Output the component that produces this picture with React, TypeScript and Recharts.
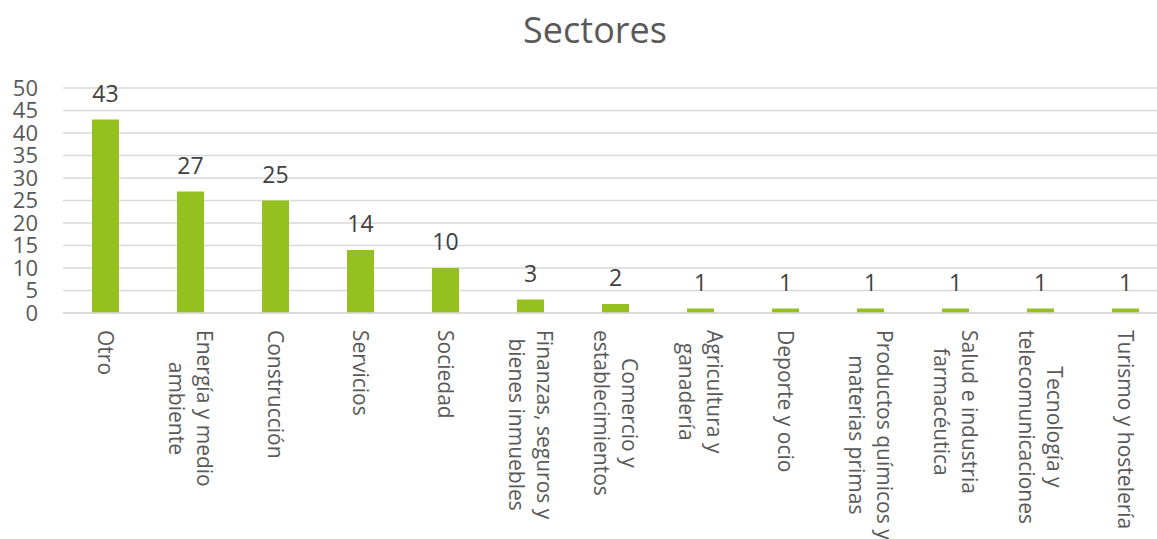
import React from "react";
import {
  BarChart,
  Bar,
  XAxis,
  YAxis,
  CartesianGrid,
  LabelList,
} from "recharts";

// category names, "\n" marks where the label wraps
const categories = [
  "Otro",
  "Energía y medio\nambiente",
  "Construcción",
  "Servicios",
  "Sociedad",
  "Finanzas, seguros y\nbienes inmuebles",
  "Comercio y\nestablecimientos",
  "Agricultura y\nganadería",
  "Deporte y ocio",
  "Productos químicos y\nmaterias primas",
  "Salud e industria\nfarmacéutica",
  "Tecnología y\ntelecomunicaciones",
  "Turismo y hostelería",
];

const counts = [43, 27, 25, 14, 10, 3, 2, 1, 1, 1, 1, 1, 1];

const yTicks = [0, 5, 10, 15, 20, 25, 30, 35, 40, 45, 50];

const data = categories.map((name, i) => ({ name, value: counts[i] }));

const FONT = "'Open Sans', sans-serif";
const GREEN = "#95C11F";
const GRID = "#D9D9D9";

let ctx: CanvasRenderingContext2D | null = null;
function textWidth(s: string) {
  if (!ctx) ctx = document.createElement("canvas").getContext("2d");
  if (!ctx) return s.length * 10;
  ctx.font = "21px 'Open Sans'";
  return ctx.measureText(s).width;
}

function CategoryTick(props: any) {
  const { x, y, payload } = props;
  const lines: string[] = String(payload.value).split("\n");
  const maxW = Math.max(...lines.map(textWidth));
  return (
    <g transform={`translate(${x},${y + 17}) rotate(90)`}>
      {lines.map((line, i) => (
        <text
          key={i}
          x={maxW / 2}
          y={(i - (lines.length - 1) / 2) * 28}
          dy="0.36em"
          textAnchor="middle"
          fill="#595959"
          fontSize={21}
          fontFamily={FONT}
        >
          {line}
        </text>
      ))}
    </g>
  );
}

export default function App() {
  return (
    <div
      style={{
        position: "fixed",
        left: 0,
        top: 0,
        width: 1157,
        height: 539,
        overflow: "hidden",
        background: "#fff",
        fontFamily: FONT,
      }}
    >
      <div
        style={{
          position: "absolute",
          left: 0,
          top: 5,
          width: 1190,
          textAlign: "center",
          fontSize: 36,
          color: "#595959",
          fontFamily: FONT,
        }}
      >
        Sectores
      </div>
      <BarChart
        width={1175}
        height={539}
        data={data}
        margin={{ top: 88, right: 7, bottom: 0, left: 0 }}
        barCategoryGap={0}
      >
        <CartesianGrid vertical={false} stroke={GRID} strokeWidth={1.3} />
        <XAxis
          dataKey="name"
          height={226}
          interval={0}
          tickLine={false}
          tickSize={0}
          tickMargin={0}
          axisLine={{ stroke: GRID, strokeWidth: 1.3 }}
          tick={<CategoryTick />}
        />
        <YAxis
          width={63}
          domain={[0, 50]}
          ticks={yTicks}
          interval={0}
          axisLine={false}
          tickLine={false}
          tickSize={0}
          tickMargin={25}
          tick={{ fill: "#595959", fontSize: 22, fontFamily: FONT }}
        />
        <Bar dataKey="value" fill={GREEN} barSize={27} isAnimationActive={false}>
          <LabelList
            dataKey="value"
            position="top"
            offset={18}
            fill="#404040"
            fontSize={23}
            fontFamily={FONT}
          />
        </Bar>
      </BarChart>
    </div>
  );
}
